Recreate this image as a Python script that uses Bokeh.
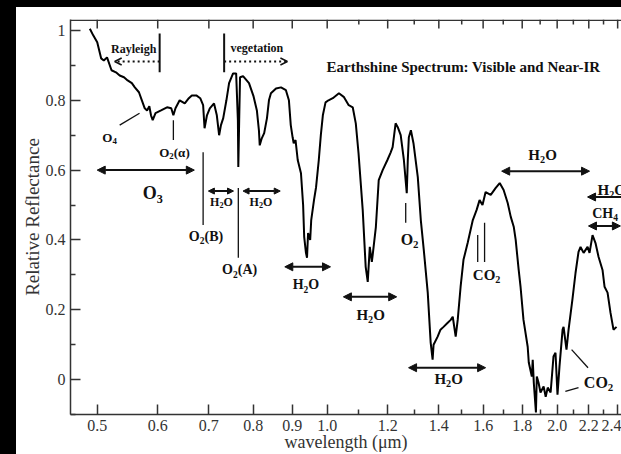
from bokeh.plotting import figure
from bokeh.models import (FixedTicker, CustomJSTickFormatter, Arrow, NormalHead,
                          OpenHead, Span, Div)
from bokeh.layouts import row, column
from bokeh.core.properties import value
from bokeh.embed import file_html
from bokeh.resources import INLINE

# ---------------- data ----------------
wavelength_um = [0.489,0.494,0.500,0.506,0.510,0.515,0.522,0.529,0.535,0.542,
    0.548,0.555,0.560,0.567,0.572,0.577,0.581,0.585,0.588,0.591,
    0.596,0.606,0.617,0.625,0.629,0.633,0.641,0.651,0.659,0.665,
    0.674,0.682,0.688,0.691,0.696,0.702,0.711,0.717,0.722,0.726,
    0.731,0.738,0.744,0.753,0.760,0.764,0.765,0.767,0.769,0.776,
    0.790,0.801,0.809,0.814,0.816,0.821,0.827,0.834,0.839,0.844,
    0.857,0.870,0.883,0.891,0.896,0.901,0.904,0.909,0.915,0.924,
    0.930,0.933,0.938,0.941,0.944,0.950,0.953,0.961,0.967,0.975,
    0.981,0.987,0.995,1.004,1.017,1.036,1.052,1.067,1.080,1.090,
    1.099,1.113,1.123,1.130,1.137,1.144,1.147,1.158,1.168,1.182,
    1.199,1.211,1.218,1.229,1.237,1.248,1.260,1.271,1.275,1.279,
    1.287,1.297,1.314,1.326,1.338,1.354,1.366,1.374,1.378,1.395,
    1.407,1.420,1.438,1.451,1.460,1.473,1.482,1.495,1.508,1.527,
    1.551,1.569,1.583,1.597,1.612,1.637,1.662,1.682,1.702,1.723,
    1.739,1.755,1.765,1.781,1.791,1.807,1.830,1.836,1.853,1.858,
    1.864,1.876,1.881,1.891,1.902,1.920,1.932,1.944,1.961,1.978,
    1.990,2.002,2.014,2.033,2.039,2.057,2.070,2.094,2.114,2.133,
    2.146,2.166,2.192,2.205,2.225,2.245,2.266,2.293,2.307,2.328,
    2.349,2.370,2.392]
reflectance = [1.005,0.986,0.966,0.920,0.914,0.923,0.886,0.880,0.871,0.866,
    0.857,0.849,0.837,0.823,0.800,0.777,0.771,0.783,0.757,0.743,
    0.763,0.771,0.780,0.777,0.757,0.777,0.800,0.791,0.806,0.814,
    0.814,0.806,0.786,0.720,0.757,0.777,0.791,0.757,0.700,0.729,
    0.749,0.800,0.849,0.877,0.877,0.743,0.609,0.743,0.866,0.869,
    0.849,0.811,0.771,0.714,0.671,0.691,0.706,0.749,0.800,0.820,
    0.834,0.837,0.829,0.800,0.729,0.694,0.677,0.686,0.629,0.591,
    0.500,0.409,0.363,0.349,0.420,0.400,0.457,0.514,0.551,0.629,
    0.700,0.757,0.794,0.800,0.806,0.820,0.809,0.786,0.780,0.734,
    0.649,0.486,0.323,0.280,0.380,0.337,0.357,0.437,0.571,0.600,
    0.629,0.651,0.666,0.734,0.723,0.700,0.629,0.534,0.629,0.694,
    0.714,0.677,0.580,0.457,0.371,0.249,0.106,0.057,0.100,0.123,
    0.143,0.151,0.163,0.171,0.180,0.123,0.171,0.266,0.343,0.391,
    0.457,0.486,0.514,0.500,0.537,0.529,0.549,0.563,0.543,0.506,
    0.466,0.437,0.400,0.314,0.266,0.171,0.094,0.049,0.009,0.057,
    -0.009,-0.094,0.009,-0.009,-0.037,-0.020,-0.049,-0.023,-0.037,0.066,
    0.077,-0.043,0.037,0.143,0.151,0.086,0.143,0.229,0.306,0.366,
    0.380,0.363,0.380,0.363,0.414,0.391,0.351,0.314,0.266,0.249,
    0.191,0.143,0.151]

x_major_ticks = [0.5, 0.6, 0.7, 0.8, 0.9, 1.0, 1.2, 1.4, 1.6, 1.8, 2.0, 2.2, 2.4]
x_minor_ticks = [1.1, 1.3, 1.5, 1.7, 1.9, 2.1, 2.3]
y_major_ticks = [0, 0.2, 0.4, 0.6, 0.8, 1.0]
y_minor_ticks = [-0.1, 0.1, 0.3, 0.5, 0.7, 0.9]

FONT = "Liberation Serif"
INK = "#111111"
AX = "#333333"
Y0, Y1 = -0.1, 1.0314
BAR = 16

p = figure(width=621 - BAR, height=447, x_axis_type="log",
           x_range=(0.4613, 2.428), y_range=(Y0, Y1),
           output_backend="svg", toolbar_location=None,
           min_border_left=70 - BAR, min_border_right=0, min_border_top=12, min_border_bottom=39)
p.outline_line_color = None
p.xgrid.visible = False
p.ygrid.visible = False
p.background_fill_color = "white"
p.border_fill_color = "white"

xa = p.xaxis[0]
xa.ticker = FixedTicker(ticks=x_major_ticks, minor_ticks=x_minor_ticks)
xa.formatter = CustomJSTickFormatter(code="return tick.toFixed(1);")
xa.axis_label = "wavelength (μm)"
xa.axis_label_text_font_size = "18px"
xa.axis_label_standoff = -2
xa.major_label_standoff = 5

ya = p.yaxis[0]
ya.ticker = FixedTicker(ticks=y_major_ticks, minor_ticks=y_minor_ticks)
ya.formatter = CustomJSTickFormatter(
    code="return Math.abs(tick - Math.round(tick)) < 1e-9 ? Math.round(tick).toString() : tick.toFixed(1);")
ya.axis_label = "Relative Reflectance"
ya.axis_label_text_font_size = "19px"
ya.axis_label_standoff = 0
ya.major_label_standoff = 5

for ax in (xa, ya):
    ax.axis_label_text_font = FONT
    ax.axis_label_text_font_style = "normal"
    ax.axis_label_text_color = AX
    ax.axis_line_color = AX
    ax.axis_line_width = 1.5
    ax.major_tick_line_color = AX
    ax.major_tick_line_width = 1.5
    ax.minor_tick_line_color = AX
    ax.minor_tick_line_width = 1.5
    ax.major_tick_out = 0
    ax.minor_tick_out = 0
    ax.major_tick_in = 10
    ax.minor_tick_in = 5
    ax.major_label_text_font = FONT
    ax.major_label_text_color = AX
    ax.major_label_text_font_size = "16px"

# top frame line with inward ticks (same ticks as the bottom axis)
p.add_layout(Span(location=Y1 - 0.7 / 350, dimension="width", line_color=AX, line_width=1.5))
p.segment(x0=x_major_ticks, x1=x_major_ticks, y0=[Y1] * len(x_major_ticks),
          y1=[Y1 - 9 / 350] * len(x_major_ticks), line_color=AX, line_width=1.5)
p.segment(x0=x_minor_ticks, x1=x_minor_ticks, y0=[Y1] * len(x_minor_ticks),
          y1=[Y1 - 5 / 350] * len(x_minor_ticks), line_color=AX, line_width=1.5)

p.line(wavelength_um, reflectance, line_color="black", line_width=2)

# ---------------- annotations ----------------
W = {"H": 0.778, "O": 0.778, "C": 0.722, "A": 0.722, "B": 0.667, "(": 0.333, ")": 0.333, "α": 0.55}


def width_of(s, size):
    return sum(W.get(ch, 0.5) for ch in s) * size


def chem(x, y, parts, size, align="center"):
    segs = []
    for text, sub in parts:
        fs = size * 0.68 if sub else size
        segs.append((text, sub, fs, width_of(text, fs)))
    total = sum(s[3] for s in segs)
    off = -total / 2 if align == "center" else 0
    for text, sub, fs, w in segs:
        p.text(x=[x], y=[y], text=[text], x_offset=off, y_offset=(0.3 * size if sub else 0),
               text_font=value(FONT), text_font_style="bold", text_font_size=f"{fs:.1f}px",
               text_align="left", text_baseline="middle", text_color=INK)
        off += w


def plain(x, y, text, size, bold=True):
    p.text(x=[x], y=[y], text=[text], text_font=value(FONT),
           text_font_style="bold" if bold else "normal", text_font_size=f"{size}px",
           text_align="center", text_baseline="middle", text_color=INK)


def darrow(x0, x1, y, heads="both", size=8):
    st = NormalHead(size=size, fill_color=INK, line_color=INK, line_width=1) if heads in ("both", "start") else None
    en = NormalHead(size=size, fill_color=INK, line_color=INK, line_width=1) if heads in ("both", "end") else None
    p.add_layout(Arrow(x_start=x0, y_start=y, x_end=x1, y_end=y, start=st, end=en,
                       line_color=INK, line_width=2))


def dotted_arrow(x0, x1, y):
    p.add_layout(Arrow(x_start=x0, y_start=y, x_end=x1, y_end=y,
                       end=OpenHead(size=7, line_color=INK, line_width=1.5),
                       line_color=INK, line_width=2, line_dash="2 3"))


# title
plain(1.508, 0.894, "Earthshine Spectrum: Visible and Near-IR", 15)

# Rayleigh / vegetation
plain(0.558, 0.946, "Rayleigh", 12)
plain(0.809, 0.949, "vegetation", 12)
p.segment(x0=[0.6035, 0.733], y0=[0.991, 0.991], x1=[0.6035, 0.733], y1=[0.880, 0.880],
          line_color=INK, line_width=2)
dotted_arrow(0.6035, 0.527, 0.911)
dotted_arrow(0.733, 0.887, 0.911)

# thin marker lines
mk_x0 = [0.535, 0.629, 0.688, 0.765, 1.267, 1.574, 1.607, 2.089, 2.050]
mk_y0 = [0.729, 0.743, 0.651, 0.549, 0.506, 0.414, 0.449, 0.086, -0.034]
mk_x1 = [0.568, 0.629, 0.688, 0.765, 1.267, 1.574, 1.607, 2.195, 2.133]
mk_y1 = [0.763, 0.686, 0.443, 0.349, 0.449, 0.337, 0.337, 0.034, -0.023]
p.segment(x0=mk_x0, y0=mk_y0, x1=mk_x1, y1=mk_y1, line_color=INK, line_width=1.3)

# band arrows
darrow(0.500, 0.670, 0.600)
darrow(0.699, 0.754, 0.540, size=6)
darrow(0.776, 0.868, 0.540, size=6)
darrow(0.880, 1.010, 0.323)
darrow(1.050, 1.233, 0.237)
darrow(1.278, 1.612, 0.034)
darrow(1.692, 2.205, 0.597)
darrow(2.43, 2.192, 0.523, heads="end")
darrow(2.198, 2.42, 0.440)

# molecule labels
chem(0.519, 0.694, [("O", 0), ("4", 1)], 13)
chem(0.631, 0.651, [("O", 0), ("2", 1), ("(α)", 0)], 13)
chem(0.591, 0.534, [("O", 0), ("3", 1)], 18)
chem(0.694, 0.411, [("O", 0), ("2", 1), ("(B)", 0)], 14)
chem(0.768, 0.314, [("O", 0), ("2", 1), ("(A)", 0)], 14)
H2O = [("H", 0), ("2", 1), ("O", 0)]
CO2 = [("CO", 0), ("2", 1)]
chem(0.727, 0.509, H2O, 12)
chem(0.819, 0.509, H2O, 12)
chem(0.938, 0.271, H2O, 14)
chem(1.140, 0.186, H2O, 15)
chem(1.282, 0.400, [("O", 0), ("2", 1)], 16)
chem(1.442, 0.003, H2O, 15)
chem(1.617, 0.300, CO2, 15)
chem(1.914, 0.643, H2O, 15)
chem(2.259, 0.543, H2O, 15, align="left")
chem(2.311, 0.477, [("CH", 0), ("4", 1)], 14)
chem(2.266, -0.009, CO2, 16)

top_bar = Div(width=621, height=7, margin=0, styles={"background-color": "black"})
left_bar = Div(width=BAR, height=447, margin=0, styles={"background-color": "black"})
layout = column(top_bar, row(left_bar, p, spacing=0), spacing=0)

open("out.html", "w").write(file_html(layout, INLINE))
